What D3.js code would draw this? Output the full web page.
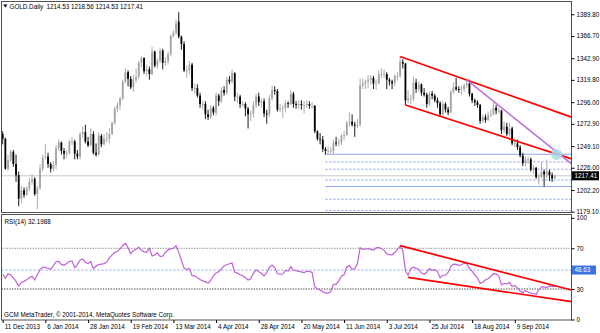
<!DOCTYPE html>
<html>
<head>
<meta charset="utf-8">
<script src="https://cdn.jsdelivr.net/npm/d3@7"></script>
<style>
body { margin: 0; background: #fff; }
svg { display: block; }
text { font-family: "Liberation Sans", Arial, sans-serif; }
</style>
</head>
<body>
<div id="chart"></div>
<script>
// daily OHLC, GOLD, 11 Dec 2013 .. end Sep 2014
var opens = [1262,1257,1225,1234,1243,1230,1218,1193,1202,1197,
 1204,1211,1214,1198,1204,1225,1237,1238,1230,1225,
 1229,1247,1253,1244,1241,1242,1254,1254,1241,1238,
 1262,1264,1254,1250,1262,1242,1240,1260,1251,1257,
 1257,1262,1274,1289,1293,1300,1318,1328,1321,1312,
 1320,1323,1338,1343,1329,1331,1326,1350,1335,1340,
 1351,1338,1340,1347,1367,1370,1382,1366,1358,1330,
 1330,1336,1311,1311,1303,1294,1294,1283,1280,1290,
 1285,1303,1297,1309,1306,1320,1318,1327,1302,1302,
 1294,1294,1289,1283,1284,1293,1302,1296,1297,1284,
 1283,1300,1309,1308,1288,1289,1290,1295,1294,1305,
 1294,1293,1294,1293,1293,1294,1292,1292,1265,1257,
 1256,1246,1244,1244,1244,1253,1252,1253,1260,1261,
 1274,1275,1272,1271,1272,1314,1316,1318,1320,1322,
 1316,1316,1326,1326,1326,1320,1318,1316,1324,1324,
 1339,1337,1298,1300,1300,1317,1310,1315,1306,1304,
 1294,1305,1303,1298,1295,1283,1294,1288,1285,1307,
 1312,1310,1309,1310,1314,1316,1305,1298,1296,1293,
 1276,1280,1277,1282,1283,1290,1287,1287,1266,1270,
 1262,1268,1252,1252,1248,1239,1231,1235,1235,1224,
 1226,1216,1216,1222,1219,1222,1218,1214.53];
var highs = [1265,1258,1240,1245,1245,1240,1222,1207,1205,1206,
 1215,1219,1216,1207,1230,1240,1251,1242,1232,1233,
 1250,1256,1254,1247,1245,1256,1259,1256,1245,1264,
 1270,1272,1259,1268,1265,1252,1264,1262,1262,1264,
 1268,1275,1291,1296,1302,1320,1332,1330,1324,1325,
 1332,1340,1345,1344,1336,1334,1355,1351,1343,1354,
 1353,1344,1350,1368,1373,1384,1392,1367,1361,1335,
 1340,1338,1316,1315,1306,1298,1297,1288,1293,1292,
 1306,1305,1312,1313,1323,1324,1331,1328,1306,1304,
 1297,1296,1291,1287,1297,1305,1306,1300,1300,1288,
 1304,1314,1313,1310,1294,1293,1298,1297,1309,1307,
 1297,1298,1298,1297,1298,1297,1296,1293,1266,1263,
 1260,1248,1249,1248,1256,1259,1257,1262,1265,1276,
 1285,1283,1275,1278,1321,1321,1320,1325,1325,1324,
 1320,1330,1332,1331,1328,1322,1320,1326,1328,1345,
 1342,1338,1309,1304,1323,1321,1318,1316,1311,1306,
 1307,1308,1305,1301,1297,1297,1296,1291,1309,1317,
 1322,1313,1314,1316,1320,1320,1306,1300,1298,1294,
 1283,1283,1286,1288,1296,1293,1290,1288,1275,1274,
 1274,1270,1258,1256,1250,1242,1238,1238,1237,1229,
 1227,1220,1232,1224,1234,1224,1221,1218.56];
var lows = [1251,1224,1223,1232,1227,1211,1185,1188,1194,1196,
 1201,1208,1196,1182,1203,1222,1235,1226,1221,1222,
 1224,1244,1240,1235,1236,1240,1250,1235,1235,1235,
 1258,1252,1248,1249,1240,1238,1239,1248,1250,1253,
 1252,1261,1272,1285,1288,1298,1316,1313,1310,1307,
 1317,1320,1333,1326,1324,1320,1325,1333,1332,1338,
 1331,1335,1336,1345,1365,1368,1364,1352,1328,1322,
 1326,1308,1305,1301,1290,1288,1278,1277,1278,1282,
 1282,1292,1295,1303,1304,1315,1316,1297,1295,1290,
 1291,1281,1268,1276,1280,1290,1292,1290,1280,1273,
 1280,1298,1304,1286,1285,1279,1285,1290,1293,1290,
 1289,1289,1288,1284,1290,1289,1289,1263,1255,1251,
 1243,1240,1241,1241,1241,1249,1249,1250,1256,1260,
 1270,1270,1259,1268,1270,1310,1310,1311,1315,1310,
 1309,1315,1322,1322,1310,1314,1310,1313,1319,1322,
 1332,1293,1295,1294,1297,1306,1307,1303,1302,1290,
 1292,1299,1296,1290,1281,1281,1285,1282,1284,1305,
 1308,1306,1304,1307,1311,1302,1295,1292,1290,1273,
 1274,1274,1276,1280,1282,1283,1284,1262,1263,1260,
 1259,1250,1248,1245,1237,1228,1227,1230,1222,1219,
 1214,1208,1215,1206,1215,1212,1211,1214.53];
var closes = [1257,1225,1234,1243,1230,1218,1193,1202,1197,1204,
 1211,1214,1198,1204,1225,1237,1238,1230,1225,1229,
 1247,1253,1244,1241,1242,1254,1254,1241,1238,1262,
 1264,1254,1250,1262,1242,1240,1260,1251,1257,1257,
 1262,1274,1289,1293,1300,1318,1328,1321,1312,1320,
 1323,1338,1343,1329,1331,1326,1350,1335,1340,1351,
 1338,1340,1347,1367,1370,1380,1366,1358,1330,1330,
 1336,1311,1311,1303,1294,1294,1283,1280,1290,1285,
 1303,1297,1309,1306,1320,1318,1327,1302,1302,1294,
 1294,1289,1283,1284,1293,1302,1296,1297,1284,1283,
 1300,1309,1308,1288,1289,1290,1295,1294,1305,1294,
 1293,1294,1293,1293,1294,1292,1292,1265,1257,1256,
 1246,1244,1244,1244,1253,1252,1253,1260,1261,1274,
 1275,1272,1271,1272,1314,1316,1318,1320,1322,1316,
 1316,1326,1326,1326,1320,1318,1316,1324,1324,1339,
 1337,1298,1300,1300,1317,1310,1315,1306,1304,1294,
 1305,1303,1298,1295,1283,1294,1288,1285,1307,1312,
 1310,1309,1310,1314,1316,1305,1298,1296,1293,1276,
 1280,1277,1282,1283,1290,1287,1287,1266,1270,1262,
 1268,1252,1252,1248,1239,1231,1235,1235,1224,1226,
 1216,1216,1222,1219,1222,1218,1214.53,1217.41];

// RSI(14) as drawn
var rsiValues = [44.5,40.5,44.8,44,41,37.5,33,36.5,37.5,39,
 41,42.5,39,44,49,51.6,51.3,50.2,49.5,53,
 56.8,57.2,54.2,53.3,55,57.3,57.5,51,54,58.5,
 59.5,56.3,55,57,50,52.5,54,54.5,55,56.5,
 60.5,63.5,65.8,67,69.5,72.8,74.8,70.5,64.5,67.7,
 69,71,68,66.5,66.1,70,62.5,63.5,65.5,62,
 62.3,66,68.5,69.5,70,72.4,66,58.5,50.5,49,
 50,43,42.9,41,39.3,38,37.2,35.6,38.5,43,
 45.8,47,49.8,52.7,53.9,54.8,55.5,46.6,45.6,44,
 43,41,38.9,40,45.5,48.8,47,45.4,42.8,46,
 51.2,53.6,51,45,44.5,44.5,48.2,47.6,52,48.4,
 48,47.4,46.8,46.2,47.4,47,46.5,32,30.3,29,
 27.2,26,26,27.5,34.5,34.5,38,42.5,44,51.6,
 53,49.4,50,55,70.5,68.9,69.4,69.4,69,68.2,
 70.5,71,69.5,68,64.5,63.8,63.6,65.8,69,72.2,
 68,48,43.5,50,51.5,50.3,49.5,45.7,44.5,46.5,
 50,48.4,49.2,47.1,41,43.5,43.7,46.3,52,54.5,
 54.2,53.2,53.8,55.3,54.8,50,47.5,44,41,35.5,
 36.7,39,40,42.3,45,44.8,43,34,35.5,35,
 36.5,32.5,33.5,31,28,26,28.5,27,25.8,25.8,
 24.5,29,32,32,31.3,33,32.5,32.1988];

var dateBars = [0,16,32,48,64,80,96,112,128,144,160,176,192];
var dateLabels = ["11 Dec 2013","6 Jan 2014","28 Jan 2014","19 Feb 2014","13 Mar 2014","4 Apr 2014",
  "28 Apr 2014","20 May 2014","11 Jun 2014","3 Jul 2014","25 Jul 2014","18 Aug 2014","9 Sep 2014"];
var priceTicks = [1389.8,1366.7,1342.9,1319.8,1296.0,1272.9,1249.1,1226.0,1202.2,1179.1];
var rsiTicks = [100,70,30,0];
var rsiLevels = [70,30];
var rsiMark = 48.63;

// drawn objects: [bar, price]
var channelTop = [[149,1344.8],[174,1319.6]];
var channelBottom = [[151,1293.0],[201,1246.8]];
var violetLine = [[174,1319.8],[200,1260.4]];
var rsiTop = [[149,72.6],[200,38.0]];
var rsiBottom = [[152,41.4],[200,22.7]];
var levelStart = 121;
var solidLevels = [1240.4,1206.0];
var dashedLevels = [1232.2,1224.4,1212.9,1192.4,1180.2];
var crossPoint = [207.7,1240.2];

var W = 600, H = 333;
var left = 1.5, right = 571.5;
var mainT = 1.5, mainB = 212.5, subT = 214.5, subB = 320;

var x = d3.scaleLinear().domain([0,207]).range([2.7,554.8]);
var y = d3.scaleLinear().domain([1179.1,1389.8]).range([211.7,14.3]);
var yr = d3.scaleLinear().domain([0,100]).range([319.5,217.8]);

var svg = d3.select("#chart").append("svg")
  .attr("width", W).attr("height", H);

var defs = svg.append("defs");
defs.append("clipPath").attr("id","clipMain").append("rect")
  .attr("x", left).attr("y", mainT).attr("width", right-left).attr("height", mainB-mainT);
defs.append("clipPath").attr("id","clipSub").append("rect")
  .attr("x", left).attr("y", subT).attr("width", right-left).attr("height", subB-subT);

var main = svg.append("g").attr("clip-path","url(#clipMain)");
var sub = svg.append("g").attr("clip-path","url(#clipSub)");

// ray through two anchors, out to the right edge
function ray(pts, ys) {
  var xe = x.invert(right);
  var k = (pts[1][1]-pts[0][1])/(pts[1][0]-pts[0][0]);
  var ve = pts[0][1] + k*(xe-pts[0][0]);
  return [[x(pts[0][0]), ys(pts[0][1])],[right, ys(ve)]];
}

// bid line
var last = closes[closes.length-1];
main.append("line")
  .attr("x1", left).attr("x2", right)
  .attr("y1", y(last)).attr("y2", y(last))
  .attr("stroke","#c8c8c8").attr("stroke-width",1);

// horizontal levels
main.selectAll(".lvS").data(solidLevels).enter().append("line")
  .attr("x1", x(levelStart)).attr("x2", right)
  .attr("y1", d => y(d)).attr("y2", d => y(d))
  .attr("stroke","#8ea6ee").attr("stroke-width",1.2);
main.selectAll(".lvD").data(dashedLevels).enter().append("line")
  .attr("x1", x(levelStart)).attr("x2", right)
  .attr("y1", d => y(d)).attr("y2", d => y(d))
  .attr("stroke","#7f98ec").attr("stroke-width",1)
  .attr("stroke-dasharray","2,2");

// candles
var bars = closes.map(function(c,i){ return {i:i, o:opens[i], h:highs[i], l:lows[i], c:c}; });
var bull = "#a3a3a3";
main.selectAll(".wick").data(bars).enter().append("line")
  .attr("x1", d => x(d.i)).attr("x2", d => x(d.i))
  .attr("y1", d => y(d.h)).attr("y2", d => y(d.l))
  .attr("stroke", d => d.c >= d.o ? bull : "#000")
  .attr("stroke-width", 0.9);
main.selectAll(".body").data(bars).enter().append("rect")
  .attr("x", d => x(d.i)-0.9).attr("width", 1.8)
  .attr("y", d => y(Math.max(d.o,d.c)))
  .attr("height", d => Math.max(0.8, Math.abs(y(d.o)-y(d.c))))
  .attr("fill", d => d.c >= d.o ? bull : "#000");

// trend lines
var line = d3.line();
[channelTop, channelBottom].forEach(function(p){
  main.append("path").attr("d", line(ray(p, y)))
    .attr("stroke","#ff0000").attr("stroke-width",1.7).attr("fill","none");
});
main.append("path").attr("d", line(ray(violetLine, y)))
  .attr("stroke","#bb72dc").attr("stroke-width",1.5).attr("fill","none");
main.append("circle")
  .attr("cx", x(crossPoint[0])).attr("cy", y(crossPoint[1])).attr("r", 5.5)
  .attr("fill","#a6dbe6").attr("opacity",0.85);

// RSI window
sub.selectAll(".rl").data(rsiLevels).enter().append("line")
  .attr("x1", left).attr("x2", right)
  .attr("y1", d => yr(d)).attr("y2", d => yr(d))
  .attr("stroke", d => d > 50 ? "#8a8a8a" : "#3a3a3a")
  .attr("stroke-width",1).attr("stroke-dasharray","1.3,1.3");
sub.append("line")
  .attr("x1", left).attr("x2", right)
  .attr("y1", yr(rsiMark)).attr("y2", yr(rsiMark))
  .attr("stroke","#9fb6f2").attr("stroke-width",1.3).attr("stroke-dasharray","2,2");
sub.append("path")
  .datum(rsiValues)
  .attr("d", d3.line().x((d,i) => x(i)).y(d => yr(d)))
  .attr("fill","none").attr("stroke","#c062d8").attr("stroke-width",1.2);
[rsiTop, rsiBottom].forEach(function(p){
  sub.append("path").attr("d", line(ray(p, yr)))
    .attr("stroke","#ff0000").attr("stroke-width",1.7).attr("fill","none");
});

// frames
svg.append("rect").attr("x",left).attr("y",mainT).attr("width",right-left).attr("height",mainB-mainT)
  .attr("fill","none").attr("stroke","#505050").attr("stroke-width",1);
svg.append("rect").attr("x",left).attr("y",subT).attr("width",right-left).attr("height",subB-subT)
  .attr("fill","none").attr("stroke","#505050").attr("stroke-width",1);

// price axis
var fs = "6.3px";
var pAxis = svg.append("g").attr("transform","translate("+right+",0)")
  .call(d3.axisRight(y).tickValues(priceTicks).tickSize(3).tickPadding(2).tickFormat(d3.format(".2f")));
pAxis.select(".domain").remove();
pAxis.selectAll("text").style("font-size",fs).attr("fill","#000");
pAxis.selectAll("line").attr("stroke","#000");

var rAxis = svg.append("g").attr("transform","translate("+right+",0)")
  .call(d3.axisRight(yr).tickValues(rsiTicks).tickSize(3).tickPadding(2));
rAxis.select(".domain").remove();
rAxis.selectAll("text").style("font-size",fs).attr("fill","#000");
rAxis.selectAll("line").attr("stroke","#000");

// value boxes
svg.append("rect").attr("x", right+0.5).attr("y", y(last)-4.5).attr("width", 27).attr("height", 9).attr("fill","#000");
svg.append("text").attr("x", right+3).attr("y", y(last)).attr("dy","0.35em")
  .style("font-size",fs).attr("fill","#fff").text(d3.format(".2f")(last));
svg.append("rect").attr("x", right+0.5).attr("y", yr(rsiMark)-4.5).attr("width", 24).attr("height", 9).attr("fill","#3d70e0");
svg.append("text").attr("x", right+3).attr("y", yr(rsiMark)).attr("dy","0.35em")
  .style("font-size",fs).attr("fill","#fff").text(d3.format(".2f")(rsiMark));

// date axis
var dAxis = svg.append("g").attr("transform","translate(0,"+subB+")")
  .call(d3.axisBottom(x).tickValues(dateBars).tickSize(3).tickFormat((d,i) => dateLabels[i]));
dAxis.select(".domain").remove();
dAxis.selectAll("line").attr("stroke","#000");
dAxis.selectAll("text").style("font-size",fs).attr("fill","#000")
  .attr("text-anchor","start").attr("x",1.5).attr("y",3).attr("dy","0.9em");

// captions
svg.append("path").attr("d","M3.2,4.6L7.4,4.6L5.3,7.6Z").attr("fill","#000");
svg.append("text").attr("x",9.5).attr("y",9.2).style("font-size",fs).attr("fill","#000")
  .attr("xml:space","preserve")
  .text("GOLD.Daily  " + [opens[207],highs[207],lows[207],closes[207]].map(d3.format(".2f")).join(" "));
svg.append("text").attr("x",4.5).attr("y",223.5).style("font-size",fs).attr("fill","#000")
  .text("RSI(14) " + rsiValues[rsiValues.length-1].toFixed(4));
svg.append("text").attr("x",4).attr("y",317.3).style("font-size",fs).attr("fill","#000")
  .text("GCM MetaTrader, \u00a9 2001-2014, MetaQuotes Software Corp.");
</script>
</body>
</html>
